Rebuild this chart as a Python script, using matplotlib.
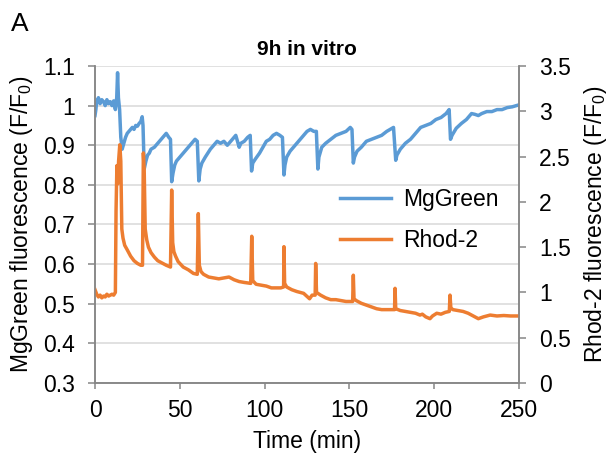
import numpy as np
import matplotlib
matplotlib.use('Agg')
import matplotlib.pyplot as plt

plt.rcParams['font.family'] = ['Liberation Sans', 'DejaVu Sans']
plt.rcParams['mathtext.fontset'] = 'custom'
plt.rcParams['mathtext.rm'] = 'Liberation Sans'
plt.rcParams['mathtext.it'] = 'Liberation Sans:italic'

# MgGreen trace (left axis)
mg_t = [0, 0.5, 1, 2, 3, 4, 5, 6, 7, 8, 9, 10, 11, 12, 12.8, 13.3, 13.8, 14.5, 15.2, 16,
        17, 18, 19, 20, 21, 22, 23, 24, 25, 26, 27, 27.8, 28.3, 29, 30, 31, 32, 33, 35, 37,
        39, 41, 42, 43.5, 44.5, 45.2, 46, 47, 48, 50, 52, 54, 56, 58, 59, 60.3, 61.2, 62, 63, 65,
        68, 70, 72, 74, 76, 78, 80, 82, 83, 85, 86, 88, 90, 91.5, 92.3, 93, 94.5, 97, 99, 101,
        103, 105, 107, 109, 110.5, 111.4, 112, 113, 115, 117, 120, 123, 125, 127, 129, 130.5, 131.4, 132, 133.7, 136,
        139, 142, 145, 148, 150.5, 151.5, 152.3, 153, 154.5, 157, 160, 163, 166, 169, 172, 174, 176, 177.3, 178, 180,
        183, 186, 189, 192, 195, 198, 201, 204, 207, 208.8, 209.6, 210.5, 213, 216, 219, 222, 224, 226, 228, 231,
        234, 237, 240, 243, 246, 250]
mg_v = [0.975, 0.99, 1.01, 1.02, 1.005, 1.015, 1.01, 1.0, 1.015, 1.005, 1.01, 1.0, 1.012, 0.99, 1.02, 1.083, 1.02, 0.99, 0.92, 0.89,
        0.905, 0.92, 0.93, 0.935, 0.94, 0.945, 0.94, 0.95, 0.948, 0.955, 0.96, 0.972, 0.95, 0.84, 0.86, 0.875, 0.88, 0.89, 0.895, 0.905,
        0.915, 0.925, 0.93, 0.92, 0.915, 0.808, 0.83, 0.85, 0.86, 0.87, 0.88, 0.89, 0.9, 0.91, 0.915, 0.91, 0.81, 0.84, 0.855, 0.87,
        0.89, 0.9, 0.91, 0.905, 0.91, 0.9, 0.91, 0.92, 0.925, 0.895, 0.905, 0.91, 0.92, 0.925, 0.835, 0.855, 0.865, 0.88, 0.895, 0.91,
        0.915, 0.925, 0.93, 0.925, 0.92, 0.825, 0.85, 0.87, 0.885, 0.895, 0.91, 0.925, 0.935, 0.94, 0.935, 0.935, 0.84, 0.87, 0.895, 0.905,
        0.915, 0.925, 0.93, 0.935, 0.945, 0.94, 0.855, 0.87, 0.885, 0.895, 0.91, 0.915, 0.92, 0.925, 0.935, 0.94, 0.945, 0.862, 0.875, 0.89,
        0.905, 0.915, 0.93, 0.945, 0.95, 0.955, 0.965, 0.97, 0.98, 0.99, 0.915, 0.925, 0.943, 0.955, 0.965, 0.98, 0.978, 0.975, 0.98, 0.985,
        0.985, 0.99, 0.99, 0.995, 0.997, 1.002]

# Rhod-2 trace (right axis)
rh_t = [0, 1, 2, 3, 4, 5, 6, 7, 8, 9, 10, 11, 12, 12.4, 12.9, 13.4, 13.9, 14.6, 15.2, 15.8,
        16.5, 17.5, 19, 21, 23, 25, 27, 28, 28.5, 29, 29.6, 30.5, 31.5, 33, 35, 37, 40, 42, 44.5, 45.2,
        45.8, 46.5, 47.5, 49, 52, 55, 58, 60.3, 60.9, 61.5, 62.5, 64, 67, 70, 73, 76, 79, 82, 85, 88,
        91.8, 92.4, 93, 95, 98, 101, 104, 107, 109.5, 111.2, 111.4, 111.8, 113, 116, 119, 123, 126.5, 128, 129.8, 130.1,
        130.6, 133, 136, 139, 142, 145, 148, 151.9, 152.3, 152.7, 154, 157, 160, 163, 166, 169, 172, 176.6, 176.9, 177.3,
        180, 183, 186, 189, 191.6, 193, 195, 197.5, 199, 201.5, 204, 206.5, 208.9, 209.3, 209.8, 211, 214, 217, 220, 223,
        226, 229, 233, 237, 241, 245, 250]
rh_v = [1.03, 0.98, 0.95, 0.97, 0.94, 0.96, 0.95, 0.98, 0.96, 0.97, 0.98, 0.97, 1.0, 1.9, 2.4, 2.2, 2.45, 2.63, 2.45, 1.7,
        1.6, 1.52, 1.47, 1.4, 1.35, 1.32, 1.3, 1.3, 2.54, 2.35, 1.7, 1.58, 1.5, 1.44, 1.39, 1.35, 1.32, 1.3, 1.28, 2.13,
        1.55, 1.45, 1.4, 1.34, 1.28, 1.25, 1.21, 1.2, 1.87, 1.3, 1.23, 1.2, 1.17, 1.16, 1.15, 1.16, 1.17, 1.14, 1.12, 1.11,
        1.1, 1.62, 1.13, 1.09, 1.08, 1.07, 1.05, 1.05, 1.05, 1.06, 1.505, 1.1, 1.06, 1.03, 1.01, 0.99, 0.93, 0.97, 0.97, 1.32,
        1.0, 0.97, 0.94, 0.92, 0.92, 0.91, 0.9, 0.9, 1.19, 0.93, 0.91, 0.88, 0.86, 0.84, 0.82, 0.81, 0.81, 0.81, 1.045, 0.82,
        0.8, 0.79, 0.78, 0.77, 0.75, 0.76, 0.73, 0.71, 0.74, 0.77, 0.76, 0.78, 0.79, 0.97, 0.83, 0.81, 0.8, 0.79, 0.77, 0.74,
        0.71, 0.73, 0.75, 0.74, 0.745, 0.74, 0.74]

blue = '#5B9BD5'
orange = '#ED7D31'
axc = '#868686'
fs = 16.5

fig = plt.figure(figsize=(6.13, 4.59), dpi=100)
ax = fig.add_axes([0.155, 0.1656, 0.6917, 0.6906])
ax2 = ax.twinx()

l1, = ax.plot(mg_t, mg_v, color=blue, lw=2.5, label='MgGreen')
l2, = ax2.plot(rh_t, rh_v, color=orange, lw=2.5, label='Rhod-2')

ax.set_xlim(0, 250)
ax.set_ylim(0.3, 1.1)
ax2.set_ylim(0, 3.5)
ax.set_xticks(np.arange(0, 251, 50))
ax.set_yticks(np.arange(0.3, 1.11, 0.1))
ax.set_yticklabels(['0.3', '0.4', '0.5', '0.6', '0.7', '0.8', '0.9', '1', '1.1'])
ax2.set_yticks(np.arange(0, 3.6, 0.5))
ax2.set_yticklabels(['0', '0.5', '1', '1.5', '2', '2.5', '3', '3.5'])

ax.grid(axis='y', color='#D9D9D9', lw=1.1)
ax.set_axisbelow(True)
for a in (ax, ax2):
    a.spines['top'].set_visible(False)
    for s in ('left', 'right', 'bottom'):
        a.spines[s].set_color(axc)
        a.spines[s].set_linewidth(1.1)
    a.tick_params(colors=axc, labelcolor='black', labelsize=fs, width=1.1, length=5)
ax.tick_params(axis='x', pad=7, length=4.5)
ax.tick_params(axis='y', pad=9.5)
ax2.tick_params(axis='y', pad=9.5)

ax.set_xlabel('Time (min)', fontsize=fs, labelpad=6)
ax.set_ylabel(r'MgGreen fluorescence (F/F$_0$)', fontsize=fs, labelpad=6)
ax2.set_ylabel(r'Rhod-2 fluorescence (F/F$_0$)', fontsize=fs, labelpad=8)
ax.set_title('9h in vitro', fontsize=15, fontweight='bold', pad=8)
fig.text(0.018, 0.932, 'A', fontsize=19)

ax2.legend([l1, l2], ['MgGreen', 'Rhod-2'], loc='center left', bbox_to_anchor=(0.578, 0.514),
           frameon=False, fontsize=fs, handlelength=2.2, handletextpad=0.55,
           labelspacing=0.75, borderpad=0, borderaxespad=0)

plt.savefig('out.png', dpi=100)
